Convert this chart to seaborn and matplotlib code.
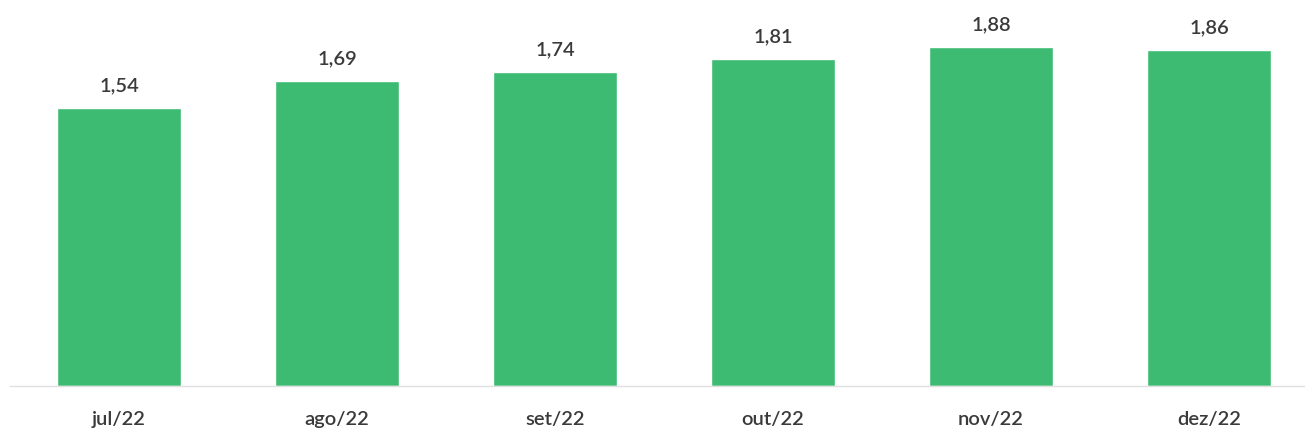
import matplotlib
matplotlib.use("Agg")
import matplotlib.pyplot as plt
import seaborn as sns
import pandas as pd

categories = ["jul/22", "ago/22", "set/22", "out/22", "nov/22", "dez/22"]
values = [1.54, 1.69, 1.74, 1.81, 1.88, 1.86]
value_labels = ["1,54", "1,69", "1,74", "1,81", "1,88", "1,86"]

sns.set_theme(style="white")
plt.rcParams['font.family'] = ['Lato', 'DejaVu Sans']

df = pd.DataFrame({"mes": categories, "valor": values})

fig = plt.figure(figsize=(13.05, 4.36), dpi=100)
ax = fig.add_axes([10/1305, (436-386)/436, (1305-10)/1305, 386/436])
sns.barplot(data=df, x="mes", y="valor", color="#3dbb72", saturation=1, width=0.57, ax=ax)

x0 = (10 - 119) / 218
x1 = (1305 - 119) / 218
ax.set_xlim(x0, x1)
ax.set_ylim(0, 386 / 180.5)

for i, (v, lab) in enumerate(zip(values, value_labels)):
    ax.text(i, v + 0.075, lab, ha="center", va="bottom", fontsize=14.5,
            fontweight="semibold", color="#3a3a3a")

for s in ["top", "right", "left"]:
    ax.spines[s].set_visible(False)
ax.spines["bottom"].set_color("#e0e0e0")
ax.spines["bottom"].set_linewidth(1)
ax.set_yticks([])
ax.set_xlabel("")
ax.set_ylabel("")
ax.tick_params(axis="x", length=0, pad=18, labelsize=14.5, colors="#3a3a3a")
for t in ax.get_xticklabels():
    t.set_fontweight("semibold")

fig.savefig("out.png", dpi=100)
